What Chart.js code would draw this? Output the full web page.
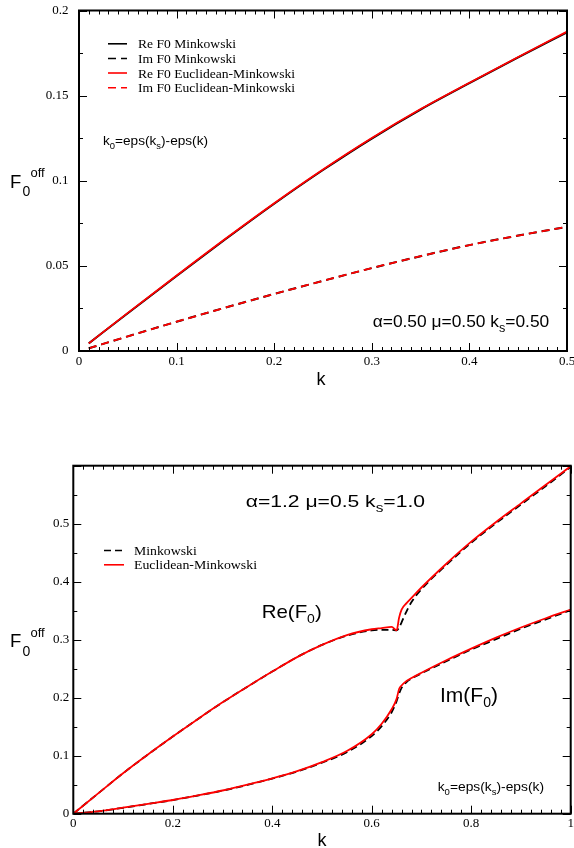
<!DOCTYPE html>
<html lang="en">
<head>
<meta charset="UTF-8">
<title>F0 off</title>
<script src="https://cdn.jsdelivr.net/npm/chart.js"></script>
<style>
  body { margin: 0; background: #fff; }
  #wrap { width: 574px; height: 848px; position: relative; }
  canvas { position: absolute; left: 0; }
</style>
</head>
<body>
<div id="wrap">
  <canvas id="topChart" width="574" height="430" style="top:0"></canvas>
  <canvas id="botChart" width="574" height="418" style="top:430px"></canvas>
</div>

<script>
// ---- top panel: alpha=0.50 mu=0.50 ks=0.50
const kTop      = [0.01, 0.05, 0.1, 0.15, 0.2, 0.25, 0.3, 0.35, 0.4, 0.45, 0.5];
const reTopMink = [0.0045, 0.0222, 0.0441, 0.0656, 0.0865, 0.1063, 0.1248, 0.1418, 0.1573, 0.1724, 0.1872];
const imTopMink = [0.0016, 0.0086, 0.0172, 0.0255, 0.0335, 0.0412, 0.0487, 0.0557, 0.0622, 0.0678, 0.0729];
const reTopEM   = [0.0045, 0.0224, 0.0443, 0.0659, 0.0868, 0.1066, 0.1251, 0.1421, 0.1576, 0.1727, 0.1876];
const imTopEM   = [0.0016, 0.0086, 0.0172, 0.0255, 0.0335, 0.0412, 0.0487, 0.0557, 0.0622, 0.0678, 0.0729];

// ---- bottom panel: alpha=1.2 mu=0.5 ks=1.0
const kBot      = [0, 0.05, 0.1, 0.15, 0.2, 0.25, 0.3, 0.35, 0.4, 0.45, 0.5, 0.55, 0.6, 0.62, 0.64, 0.65, 0.655, 0.66, 0.67, 0.68, 0.7, 0.75, 0.8, 0.85, 0.9, 0.95, 1.0];
const reBotEM   = [0, 0.035, 0.0697, 0.102, 0.133, 0.163, 0.192, 0.219, 0.245, 0.270, 0.291, 0.308, 0.318, 0.320, 0.322, 0.316, 0.338, 0.352, 0.363, 0.372, 0.390, 0.431, 0.469, 0.503, 0.535, 0.567, 0.599];
const reBotMink = [0, 0.035, 0.0697, 0.102, 0.133, 0.163, 0.192, 0.219, 0.245, 0.270, 0.291, 0.307, 0.316, 0.317, 0.317, 0.316, 0.321, 0.330, 0.349, 0.365, 0.387, 0.429, 0.467, 0.501, 0.533, 0.565, 0.598];
const imBotEM   = [0, 0.004, 0.0104, 0.017, 0.0236, 0.0315, 0.040, 0.050, 0.061, 0.0735, 0.089, 0.108, 0.137, 0.155, 0.180, 0.198, 0.215, 0.221, 0.229, 0.234, 0.243, 0.2645, 0.2845, 0.3035, 0.321, 0.337, 0.352];
const imBotMink = [0, 0.004, 0.0102, 0.0168, 0.0234, 0.0312, 0.0398, 0.0495, 0.0605, 0.0728, 0.088, 0.106, 0.134, 0.151, 0.175, 0.194, 0.207, 0.217, 0.227, 0.233, 0.242, 0.263, 0.283, 0.301, 0.319, 0.335, 0.351];

const SANS = '"Liberation Sans", Arial, sans-serif';
const SERIF = '"Liberation Serif", "Times New Roman", serif';

function pts(xs, ys) {
    return xs.map((x, i) => ({ x: x, y: ys[i] }));
}

// text made of pieces [text, size, dy], stretched to a given width
function richText(ctx, x, y, segs, width) {
    ctx.save();
    let natural = 0;
    segs.forEach(s => { ctx.font = s[1] + 'px ' + (s[3] || SANS); natural += ctx.measureText(s[0]).width; });
    ctx.translate(x, y);
    if (width) ctx.scale(width / natural, 1);
    let cx = 0;
    ctx.fillStyle = '#000';
    ctx.textBaseline = 'alphabetic';
    ctx.textAlign = 'left';
    segs.forEach(s => {
        ctx.font = s[1] + 'px ' + (s[3] || SANS);
        ctx.fillText(s[0], cx, s[2]);
        cx += ctx.measureText(s[0]).width;
    });
    ctx.restore();
}

// frame, inward ticks on all four sides, legend and labels
function decor(cfg) {
    return {
        id: 'decor',
        afterDraw(chart) {
            const ctx = chart.ctx;
            const a = chart.chartArea;
            const xs = chart.scales.x, ys = chart.scales.y;
            ctx.save();
            ctx.strokeStyle = '#000';
            ctx.lineWidth = 2;
            ctx.strokeRect(a.left, a.top, a.right - a.left, a.bottom - a.top);
            ctx.lineWidth = 1;
            const n = Math.round((xs.max - xs.min) / cfg.xMinor);
            for (let i = 0; i <= n; i++) {
                const px = Math.round(xs.getPixelForValue(xs.min + i * cfg.xMinor)) + 0.5;
                const len = i % cfg.xRatio === 0 ? 8 : 4;
                ctx.beginPath();
                ctx.moveTo(px, a.bottom); ctx.lineTo(px, a.bottom - len);
                ctx.moveTo(px, a.top); ctx.lineTo(px, a.top + len);
                ctx.stroke();
            }
            const m = Math.round((ys.max - ys.min) / cfg.yMinor);
            for (let i = 0; i <= m; i++) {
                const py = Math.round(ys.getPixelForValue(ys.min + i * cfg.yMinor)) + 0.5;
                const len = i % cfg.yRatio === 0 ? 8 : 4;
                ctx.beginPath();
                ctx.moveTo(a.left, py); ctx.lineTo(a.left + len, py);
                ctx.moveTo(a.right, py); ctx.lineTo(a.right - len, py);
                ctx.stroke();
            }
            // legend
            cfg.legend.forEach(row => {
                const ds = chart.data.datasets[row.ds];
                ctx.beginPath();
                ctx.strokeStyle = ds.borderColor;
                ctx.lineWidth = 1.6;
                ctx.setLineDash(ds.borderDash || []);
                ctx.moveTo(cfg.legX0, row.y - 4.5);
                ctx.lineTo(cfg.legX1, row.y - 4.5);
                ctx.stroke();
                ctx.setLineDash([]);
                richText(ctx, cfg.legText, row.y, [[row.label, 13.5, 0, SERIF]], row.w);
            });
            // free labels
            cfg.texts.forEach(t => richText(ctx, t.x, t.y, t.segs, t.w));
            ctx.restore();
        }
    };
}

function tickText(v, hide) {
    if (hide !== undefined && Math.abs(v - hide) < 1e-9) return '';
    return String(parseFloat(v.toFixed(3)));
}

function makeChart(id, datasets, sc, box, cfg) {
    new Chart(document.getElementById(id), {
        type: 'line',
        data: { datasets: datasets },
        options: {
            responsive: false,
            animation: false,
            layout: { padding: { top: box.top, right: box.right, left: 0, bottom: 0 } },
            plugins: { legend: { display: false }, tooltip: { enabled: false } },
            elements: { point: { radius: 0 }, line: { cubicInterpolationMode: 'monotone' } },
            scales: {
                x: {
                    type: 'linear', min: sc.xMin, max: sc.xMax,
                    grid: { display: false, drawTicks: false },
                    border: { display: false },
                    ticks: { stepSize: sc.xStep, color: '#000', padding: box.xPad, font: { family: SERIF, size: 13 },
                             callback: v => tickText(v) },
                    afterFit(s) { s.height = box.xH; s.paddingLeft = 0; s.paddingRight = 0; }
                },
                y: {
                    type: 'linear', min: sc.yMin, max: sc.yMax,
                    grid: { display: false, drawTicks: false },
                    border: { display: false },
                    ticks: { stepSize: sc.yStep, color: '#000', padding: box.yPad, font: { family: SERIF, size: 13 },
                             callback: v => tickText(v, sc.yHide) },
                    afterFit(s) { s.width = box.yW; s.paddingTop = 0; s.paddingBottom = 0; }
                }
            }
        },
        plugins: [decor(cfg)]
    });
}

// top chart
makeChart('topChart', [
    { label: 'Re F0 Euclidean-Minkowski', data: pts(kTop, reTopEM), borderColor: '#ff0000', borderWidth: 1.8, order: 0 },
    { label: 'Im F0 Euclidean-Minkowski', data: pts(kTop, imTopEM), borderColor: '#ff0000', borderWidth: 1.8, borderDash: [8, 5], order: 0 },
    { label: 'Re F0 Minkowski', data: pts(kTop, reTopMink), borderColor: '#000000', borderWidth: 2, order: 1 },
    { label: 'Im F0 Minkowski', data: pts(kTop, imTopMink), borderColor: '#000000', borderWidth: 2, borderDash: [8, 5], order: 1 }
], { xMin: 0, xMax: 0.5, xStep: 0.1, yMin: 0, yMax: 0.2, yStep: 0.05 },
   { top: 10.5, right: 7, xH: 79, yW: 79, xPad: 3, yPad: 10.5 },
   {
       xMinor: 0.01, xRatio: 10, yMinor: 0.025, yRatio: 2,
       legX0: 108, legX1: 127, legText: 138,
       legend: [
           { ds: 2, label: 'Re F0 Minkowski', y: 48.3, w: 98 },
           { ds: 3, label: 'Im F0 Minkowski', y: 63, w: 98 },
           { ds: 0, label: 'Re F0 Euclidean-Minkowski', y: 77.5, w: 157 },
           { ds: 1, label: 'Im F0 Euclidean-Minkowski', y: 92.2, w: 157 }
       ],
       texts: [
           { x: 103, y: 145, w: 105, segs: [['k', 13, 0], ['0', 9, 4], ['=eps(k', 13, 0], ['s', 9, 4], [')-eps(k)', 13, 0]] },
           { x: 372.7, y: 326.7, w: 176.5, segs: [['\u03b1=0.50 \u03bc=0.50 k', 16.5, 0], ['s', 12, 5], ['=0.50', 16.5, 0]] },
           { x: 316.5, y: 385, segs: [['k', 18, 0]] },
           { x: 10, y: 187.7, segs: [['F', 18.5, 0]] },
           { x: 22.5, y: 196, segs: [['0', 14, 0]] },
           { x: 30.5, y: 177, segs: [['off', 13, 0]] }
       ]
   });

// bottom chart
makeChart('botChart', [
    { label: 'Euclidean-Minkowski Re', data: pts(kBot, reBotEM), borderColor: '#ff0000', borderWidth: 1.8, order: 0 },
    { label: 'Euclidean-Minkowski Im', data: pts(kBot, imBotEM), borderColor: '#ff0000', borderWidth: 1.8, order: 0 },
    { label: 'Minkowski Re', data: pts(kBot, reBotMink), borderColor: '#000000', borderWidth: 1.8, borderDash: [7, 4], order: 1 },
    { label: 'Minkowski Im', data: pts(kBot, imBotMink), borderColor: '#000000', borderWidth: 1.8, borderDash: [7, 4], order: 1 }
], { xMin: 0, xMax: 1, xStep: 0.2, yMin: 0, yMax: 0.6, yStep: 0.1, yHide: 0.6 },
   { top: 35.7, right: 3.3, xH: 34.3, yW: 73.3, xPad: 2, yPad: 4 },
   {
       xMinor: 0.02, xRatio: 10, yMinor: 0.05, yRatio: 2,
       legX0: 104, legX1: 124, legText: 134,
       legend: [
           { ds: 2, label: 'Minkowski', y: 125, w: 62.7 },
           { ds: 0, label: 'Euclidean-Minkowski', y: 139.3, w: 123 }
       ],
       texts: [
           { x: 245.7, y: 76.7, w: 179.3, segs: [['\u03b1=1.2 \u03bc=0.5 k', 16.5, 0], ['s', 12, 5], ['=1.0', 16.5, 0]] },
           { x: 261.7, y: 188.3, w: 60, segs: [['Re(F', 19, 0], ['0', 13, 5], [')', 19, 0]] },
           { x: 440, y: 271.7, w: 58, segs: [['Im(F', 21, 0], ['0', 14, 5], [')', 21, 0]] },
           { x: 437.7, y: 360.7, w: 106.3, segs: [['k', 13, 0], ['0', 9, 4], ['=eps(k', 13, 0], ['s', 9, 4], [')-eps(k)', 13, 0]] },
           { x: 317.5, y: 416, segs: [['k', 18, 0]] },
           { x: 10, y: 216.7, segs: [['F', 18.5, 0]] },
           { x: 22.5, y: 226, segs: [['0', 14, 0]] },
           { x: 30.5, y: 206.7, segs: [['off', 13, 0]] }
       ]
   });
</script>
</body>
</html>
